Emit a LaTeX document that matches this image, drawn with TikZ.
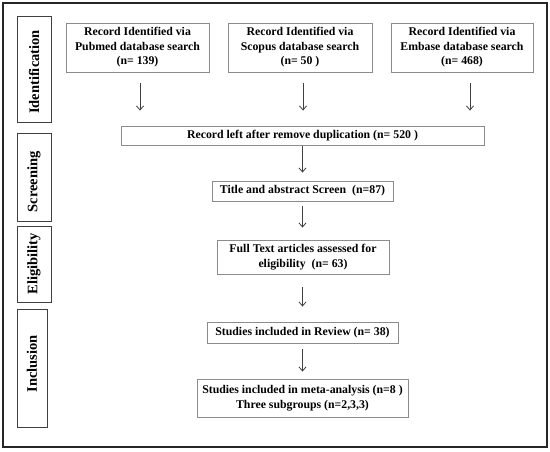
\documentclass[tikz,border=0pt]{standalone}
\usepackage{fontspec}
\setmainfont{Liberation Serif}
\newfontfamily\bfserif{Liberation Serif Bold}
\usetikzlibrary{arrows.meta}
\begin{document}
\begin{tikzpicture}[x=1pt,y=-1pt,
  box/.style={draw=black!45,line width=0.9pt,fill=white,align=center,inner sep=0pt,
    font=\bfserif\fontsize{11.8}{14.5}\selectfont},
  side/.style={draw=black!75,line width=0.9pt,inner sep=0pt},
  sidetext/.style={rotate=90,font=\bfserif\fontsize{14.5}{16}\selectfont},
  arr/.style={draw=black!75,line width=0.8pt,-{Straight Barb[length=4pt,width=7pt]}}]
\useasboundingbox (0,0) rectangle (550,451);
\draw[line width=1.4pt,black!85] (3,3) rectangle (547,447);
% side labels
\node[side,minimum width=34pt,minimum height=106pt] (id) at (34,69) {};
\node[sidetext] (idt) at ([yshift=-3pt]id.center) {Identification};
\node[side,minimum width=34pt,minimum height=88pt] (scr) at (34,177) {};
\node[sidetext] (scrt) at ([yshift=-5pt]scr.center) {Screening};
\node[side,minimum width=34pt,minimum height=76pt] (eli) at (34,264) {};
\node[sidetext] (elit) at (eli.center) {Eligibility};
\node[side,minimum width=30pt,minimum height=118pt] (inc) at (32,368) {};
\node[sidetext] (inct) at ([yshift=4pt]inc.center) {Inclusion};
% main boxes
\node[box,minimum width=143pt,minimum height=49pt] (pub) at (137.5,47.5) {Record Identified via\\Pubmed database search\\(n= 139)};
\node[box,minimum width=144pt,minimum height=49pt] (sco) at (300,47.5) {Record Identified via\\Scopus database search\\(n= 50 )};
\node[box,minimum width=142pt,minimum height=49pt] (emb) at (462,47.5) {Record Identified via\\Embase database search\\(n= 468)};
\node[box,minimum width=363pt,minimum height=19pt] (dup) at (302.5,135.5) {Record left after remove duplication (n= 520 )};
\node[box,minimum width=181pt,minimum height=20pt] (tit) at (302.5,191) {Title and abstract Screen~~(n=87)};
\node[box,minimum width=172pt,minimum height=34pt] (ful) at (303,257) {Full Text articles assessed for\\eligibility~~(n= 63)};
\node[box,minimum width=191pt,minimum height=21pt] (rev) at (302.5,332.5) {Studies included in Review (n= 38)};
\node[box,minimum width=211pt,minimum height=38pt] (met) at (302.5,398) {Studies included in meta-analysis (n=8 )\\Three subgroups (n=2,3,3)};
% arrows
\draw[arr,shorten <=11pt,shorten >=15pt] ([xshift=2.5pt]pub.south) -- ([xshift=2.5pt]pub.south |- dup.north);
\draw[arr,shorten <=11pt,shorten >=15pt] ([xshift=3pt]sco.south) -- ([xshift=3pt]sco.south |- dup.north);
\draw[arr,shorten <=11pt,shorten >=15pt] ([xshift=8pt]emb.south) -- ([xshift=8pt]emb.south |- dup.north);
\draw[arr,shorten <=1pt,shorten >=8pt] (dup.south) -- (dup.south |- tit.north);
\draw[arr,shorten <=5pt,shorten >=12pt] (tit.south) -- (tit.south |- ful.north);
\draw[arr,shorten <=13pt,shorten >=15pt] (tit.south |- ful.south) -- (tit.south |- rev.north);
\draw[arr,shorten <=6pt,shorten >=7pt] (rev.south) -- (rev.south |- met.north);
\end{tikzpicture}
\end{document}
